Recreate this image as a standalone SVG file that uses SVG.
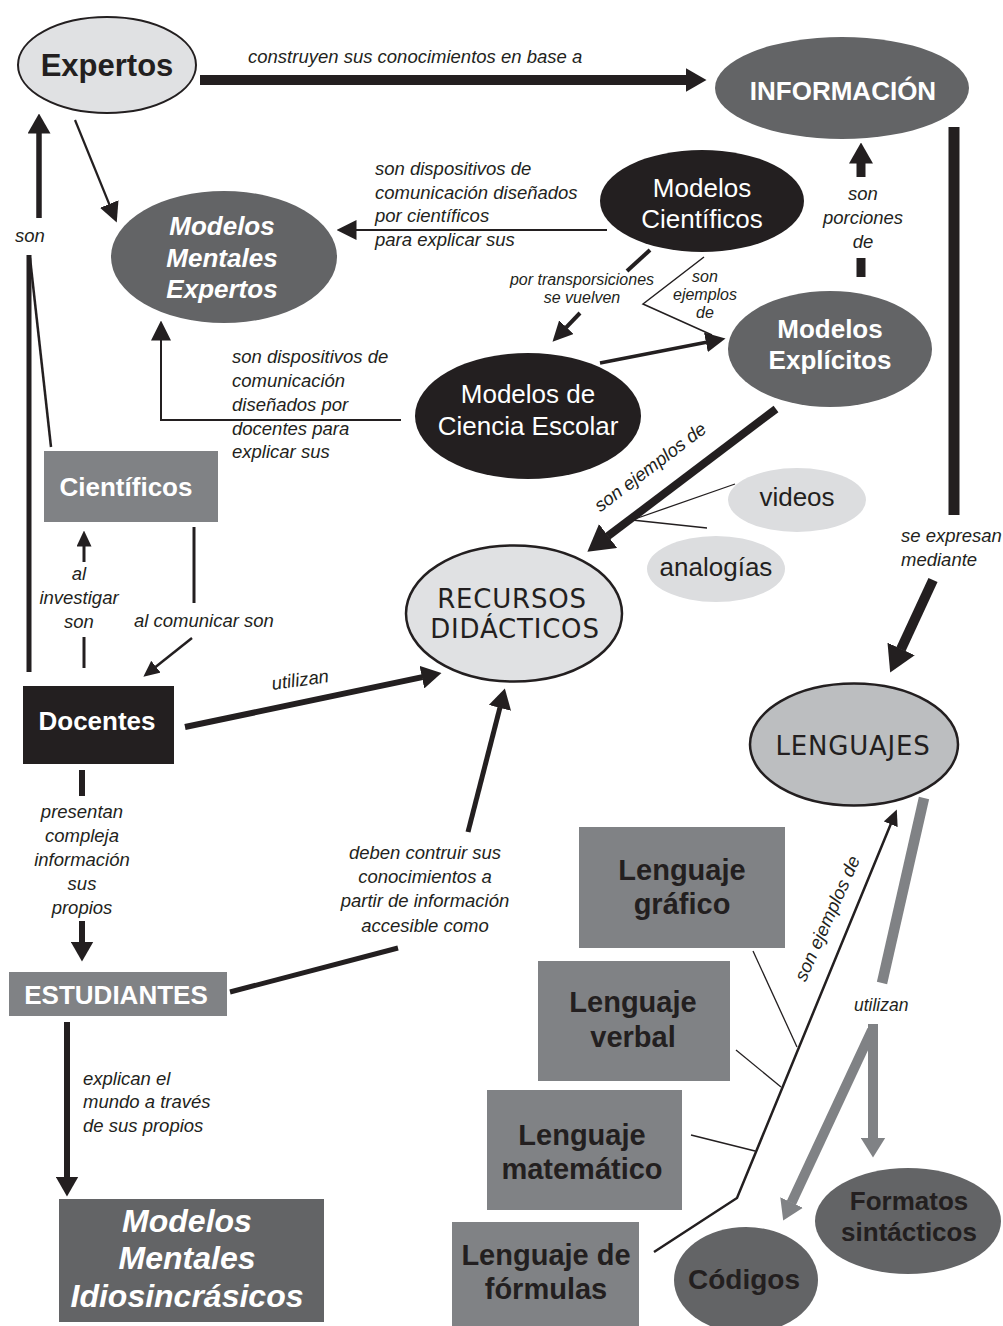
<svg xmlns="http://www.w3.org/2000/svg" width="1003" height="1326" viewBox="0 0 1003 1326">
<style>
text{font-family:"Liberation Sans",Arial,sans-serif;fill:#231f20}
.lbl{font-style:italic;font-size:18.5px}
.sm{font-size:16px}
.c{text-anchor:middle}
.b{font-weight:bold}
.w{fill:#fff}
.n26{font-size:26px}
.comic{font-family:"DejaVu Sans",sans-serif;font-size:26px;letter-spacing:0.8px;text-anchor:middle}
.ln{fill:none;stroke:#231f20}
.gl{fill:none;stroke:#808285}
</style>
<defs>
<marker id="aL" markerUnits="userSpaceOnUse" markerWidth="21" markerHeight="24" viewBox="0 0 21 24" refX="0.5" refY="12" orient="auto"><path d="M0,0L21,12L0,24z" fill="#231f20"/></marker>
<marker id="aXL" markerUnits="userSpaceOnUse" markerWidth="26" markerHeight="30" viewBox="0 0 26 30" refX="0.5" refY="15" orient="auto"><path d="M0,0L26,15L0,30z" fill="#231f20"/></marker>
<marker id="aM" markerUnits="userSpaceOnUse" markerWidth="20" markerHeight="23" viewBox="0 0 20 23" refX="0.5" refY="11.5" orient="auto"><path d="M0,0L20,11.5L0,23z" fill="#231f20"/></marker>
<marker id="aS" markerUnits="userSpaceOnUse" markerWidth="20" markerHeight="20" viewBox="0 0 20 20" refX="0.5" refY="10" orient="auto"><path d="M0,0L20,10L0,20z" fill="#231f20"/></marker>
<marker id="aXS" markerUnits="userSpaceOnUse" markerWidth="16" markerHeight="15" viewBox="0 0 16 15" refX="0.5" refY="7.5" orient="auto"><path d="M0,0L16,7.5L0,15z" fill="#231f20"/></marker>
<marker id="aG" markerUnits="userSpaceOnUse" markerWidth="20" markerHeight="25" viewBox="0 0 20 25" refX="0.5" refY="12.5" orient="auto"><path d="M0,0L20,12.5L0,25z" fill="#808285"/></marker>
</defs>
<rect width="1003" height="1326" fill="#fff"/>

<g id="connectors">
<line class="ln" x1="200" y1="80" x2="686" y2="80" stroke-width="10" marker-end="url(#aL)"/>
<line class="ln" x1="75" y1="120" x2="109.4" y2="204.5" stroke-width="2.2" marker-end="url(#aS)"/>
<line class="ln" x1="39" y1="218" x2="39" y2="133" stroke-width="5.5" marker-end="url(#aM)"/>
<line class="ln" x1="29" y1="255" x2="29" y2="672" stroke-width="5"/>
<line class="ln" x1="30" y1="258" x2="51" y2="447" stroke-width="2.5"/>
<line class="ln" x1="607" y1="230" x2="356" y2="230" stroke-width="2.2" marker-end="url(#aS)"/>
<line class="ln" x1="650" y1="250" x2="627" y2="271" stroke-width="4"/>
<line class="ln" x1="580" y1="313" x2="566" y2="327.6" stroke-width="4" marker-end="url(#aS)"/>
<polyline class="ln" points="704,257 643,304 712,335" stroke-width="1.5"/>
<line class="ln" x1="600" y1="363" x2="706.4" y2="342.2" stroke-width="3.5" marker-end="url(#aS)"/>
<line class="ln" x1="861" y1="258" x2="861" y2="277" stroke-width="9"/>
<line class="ln" x1="861" y1="177" x2="861" y2="163" stroke-width="9" marker-end="url(#aL)"/>
<polyline class="ln" points="401,420 161,420 161,340" stroke-width="2" marker-end="url(#aS)"/>
<line class="ln" x1="84" y1="668" x2="84" y2="637" stroke-width="3"/>
<line class="ln" x1="84" y1="562" x2="84" y2="546" stroke-width="3" marker-end="url(#aXS)"/>
<line class="ln" x1="194" y1="527" x2="194" y2="603" stroke-width="3"/>
<line class="ln" x1="192" y1="638" x2="155.5" y2="667" stroke-width="2.5" marker-end="url(#aXS)"/>
<line class="ln" x1="185" y1="727" x2="422.4" y2="677.1" stroke-width="6" marker-end="url(#aM)"/>
<line class="ln" x1="776" y1="409" x2="607.7" y2="536.3" stroke-width="8" marker-end="url(#aXL)"/>
<line class="ln" x1="632" y1="520" x2="735" y2="484" stroke-width="1.3"/>
<line class="ln" x1="632" y1="520" x2="707" y2="528" stroke-width="1.3"/>
<line class="ln" x1="954" y1="127" x2="954" y2="515" stroke-width="11"/>
<line class="ln" x1="933" y1="580" x2="900.9" y2="649.4" stroke-width="10" marker-end="url(#aXL)"/>
<line class="ln" x1="82" y1="770" x2="82" y2="796" stroke-width="6"/>
<line class="ln" x1="82" y1="921" x2="82" y2="942" stroke-width="6" marker-end="url(#aM)"/>
<line class="ln" x1="67" y1="1022" x2="67" y2="1177" stroke-width="6" marker-end="url(#aM)"/>
<line class="ln" x1="230" y1="992" x2="398" y2="948" stroke-width="5"/>
<line class="ln" x1="468" y1="832" x2="500" y2="707.4" stroke-width="5" marker-end="url(#aM)"/>
<polyline class="ln" points="654,1252 737,1198 890.9,823.8" stroke-width="2.5" marker-end="url(#aXS)"/>
<line class="ln" x1="753" y1="951" x2="797" y2="1047" stroke-width="1.3"/>
<line class="ln" x1="736" y1="1050" x2="781" y2="1087" stroke-width="1.3"/>
<line class="ln" x1="691" y1="1135" x2="755" y2="1151" stroke-width="1.3"/>
<line class="gl" x1="924" y1="798" x2="882" y2="983" stroke-width="10.5"/>
<line class="gl" x1="873" y1="1024" x2="873" y2="1138" stroke-width="10" marker-end="url(#aG)"/>
<line class="gl" x1="872" y1="1030" x2="791.4" y2="1202.9" stroke-width="10" marker-end="url(#aG)"/>

<text class="lbl" x="248" y="63">construyen sus conocimientos en base a</text>
<text class="lbl" x="375" y="175">son dispositivos de</text>
<text class="lbl" x="375" y="199">comunicación diseñados</text>
<text class="lbl" x="375" y="222">por científicos</text>
<text class="lbl" x="375" y="246">para explicar sus</text>
<text class="lbl" x="15" y="242">son</text>
<text class="lbl c" x="863" y="200">son</text>
<text class="lbl c" x="863" y="224">porciones</text>
<text class="lbl c" x="863" y="248">de</text>
<text class="lbl sm c" x="582" y="285">por transporsiciones</text>
<text class="lbl sm c" x="582" y="303">se vuelven</text>
<text class="lbl sm c" x="705" y="282">son</text>
<text class="lbl sm c" x="705" y="300">ejemplos</text>
<text class="lbl sm c" x="705" y="318">de</text>
<text class="lbl" x="232" y="363">son dispositivos de</text>
<text class="lbl" x="232" y="387">comunicación</text>
<text class="lbl" x="232" y="411">diseñados por</text>
<text class="lbl" x="232" y="435">docentes para</text>
<text class="lbl" x="232" y="458">explicar sus</text>
<text class="lbl c" x="79" y="580">al</text>
<text class="lbl c" x="79" y="604">investigar</text>
<text class="lbl c" x="79" y="628">son</text>
<text class="lbl" x="134" y="627">al comunicar son</text>
<text class="lbl c" transform="translate(301,686) rotate(-8)">utilizan</text>
<text class="lbl c" transform="translate(654,472) rotate(-37)">son ejemplos de</text>
<text class="lbl" x="901" y="542">se expresan</text>
<text class="lbl" x="901" y="566">mediante</text>
<text class="lbl c" x="82" y="818">presentan</text>
<text class="lbl c" x="82" y="842">compleja</text>
<text class="lbl c" x="82" y="866">información</text>
<text class="lbl c" x="82" y="890">sus</text>
<text class="lbl c" x="82" y="914">propios</text>
<text class="lbl c" x="425" y="859">deben contruir sus</text>
<text class="lbl c" x="425" y="883">conocimientos a</text>
<text class="lbl c" x="425" y="907">partir de información</text>
<text class="lbl c" x="425" y="932">accesible como</text>
<text class="lbl" x="83" y="1085">explican el</text>
<text class="lbl" x="83" y="1108">mundo a través</text>
<text class="lbl" x="83" y="1132">de sus propios</text>
<text class="lbl c" transform="translate(833,921) rotate(-66)">son ejemplos de</text>
<text class="lbl" x="854" y="1011" style="font-size:17.5px">utilizan</text>
</g>

<g id="expertos">
<ellipse cx="107" cy="65" rx="89" ry="48" fill="#e0e1e3" stroke="#231f20" stroke-width="2"/>
<text class="b c" x="107" y="76" style="font-size:31px">Expertos</text>
</g>
<g id="informacion">
<ellipse cx="842" cy="88" rx="127" ry="51" fill="#636466"/>
<text class="b c w n26" x="843" y="100">INFORMACIÓN</text>
</g>
<g id="modelos-mentales-expertos">
<ellipse cx="224" cy="257" rx="113" ry="66" fill="#636466"/>
<text class="b c w n26" x="222" y="235" font-style="italic">Modelos</text>
<text class="b c w n26" x="222" y="267" font-style="italic">Mentales</text>
<text class="b c w n26" x="222" y="298" font-style="italic">Expertos</text>
</g>
<g id="modelos-cientificos">
<ellipse cx="702" cy="201" rx="102" ry="51" fill="#231f20"/>
<text class="c w n26" x="702" y="197">Modelos</text>
<text class="c w n26" x="702" y="228">Científicos</text>
</g>
<g id="modelos-explicitos">
<ellipse cx="830" cy="349" rx="102" ry="58" fill="#636466"/>
<text class="b c w n26" x="830" y="338">Modelos</text>
<text class="b c w n26" x="830" y="369">Explícitos</text>
</g>
<g id="modelos-ciencia-escolar">
<ellipse cx="528" cy="416" rx="113" ry="63" fill="#231f20"/>
<text class="c w n26" x="528" y="403">Modelos de</text>
<text class="c w n26" x="528" y="435">Ciencia Escolar</text>
</g>
<g id="cientificos">
<rect x="44" y="451" width="174" height="71" fill="#808285"/>
<text class="b c w n26" x="126" y="496">Científicos</text>
</g>
<g id="docentes">
<rect x="23" y="686" width="151" height="78" fill="#231f20"/>
<text class="b c w n26" x="97" y="730">Docentes</text>
</g>
<g id="recursos-didacticos">
<ellipse cx="514" cy="613.5" rx="108" ry="68" fill="#e0e1e3" stroke="#231f20" stroke-width="2.5"/>
<text class="comic" x="512" y="608">RECURSOS</text>
<text class="comic" x="515" y="638">DIDÁCTICOS</text>
</g>
<g id="videos">
<ellipse cx="797" cy="500" rx="69" ry="32" fill="#dcdddf"/>
<text class="c n26" x="797" y="506">videos</text>
</g>
<g id="analogias">
<ellipse cx="716" cy="569" rx="69" ry="33" fill="#dcdddf"/>
<text class="c n26" x="716" y="576">analogías</text>
</g>
<g id="lenguajes">
<ellipse cx="854" cy="744.5" rx="104" ry="61" fill="#bcbec0" stroke="#231f20" stroke-width="2.5"/>
<text class="comic" x="853" y="755">LENGUAJES</text>
</g>
<g id="estudiantes">
<rect x="9" y="972" width="218" height="44" fill="#808285"/>
<text class="b c w n26" x="116" y="1004">ESTUDIANTES</text>
</g>
<g id="modelos-mentales-idiosincrasicos">
<rect x="59" y="1199" width="265" height="123" fill="#636466"/>
<text class="b c w" x="187" y="1232" font-style="italic" font-size="32">Modelos</text>
<text class="b c w" x="187" y="1269" font-style="italic" font-size="32">Mentales</text>
<text class="b c w" x="187" y="1307" font-style="italic" font-size="32">Idiosincrásicos</text>
</g>
<g id="lenguaje-grafico">
<rect x="579" y="827" width="206" height="121" fill="#808285"/>
<text class="b c" x="682" y="880" font-size="29">Lenguaje</text>
<text class="b c" x="682" y="914" font-size="29">gráfico</text>
</g>
<g id="lenguaje-verbal">
<rect x="538" y="961" width="192" height="120" fill="#808285"/>
<text class="b c" x="633" y="1012" font-size="29">Lenguaje</text>
<text class="b c" x="633" y="1047" font-size="29">verbal</text>
</g>
<g id="lenguaje-matematico">
<rect x="487" y="1090" width="195" height="120" fill="#808285"/>
<text class="b c" x="582" y="1145" font-size="29">Lenguaje</text>
<text class="b c" x="582" y="1179" font-size="29">matemático</text>
</g>
<g id="lenguaje-formulas">
<rect x="452" y="1222" width="187" height="104" fill="#808285"/>
<text class="b c" x="546" y="1265" font-size="29">Lenguaje de</text>
<text class="b c" x="546" y="1299" font-size="29">fórmulas</text>
</g>
<g id="formatos-sintacticos">
<ellipse cx="908" cy="1221" rx="93" ry="53" fill="#636466"/>
<text class="b c n26" x="909" y="1210">Formatos</text>
<text class="b c n26" x="909" y="1241">sintácticos</text>
</g>
<g id="codigos">
<ellipse cx="746" cy="1280" rx="72" ry="53" fill="#636466"/>
<text class="b c" x="744" y="1289" font-size="28">Códigos</text>
</g>
</svg>
